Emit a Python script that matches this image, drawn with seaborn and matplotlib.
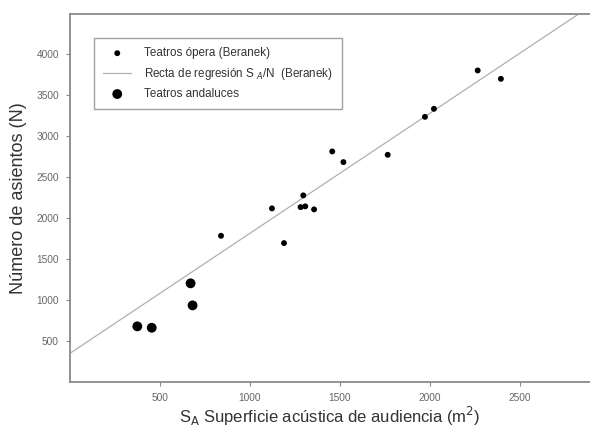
import numpy as np
import pandas as pd
import seaborn as sns
import matplotlib.pyplot as plt

# Teatros de ópera (Beranek): superficie acústica S_A (m2) y número de asientos N
beranek_sa = [839, 1122, 1189, 1281, 1296, 1307, 1356, 1457, 1519, 1765,
              1972, 2022, 2265, 2394]
beranek_n = [1784, 2118, 1695, 2134, 2277, 2143, 2106, 2813, 2683, 2772,
             3235, 3333, 3801, 3699]

# Teatros andaluces
andaluces_sa = [374, 454, 670, 681]
andaluces_n = [679, 662, 1204, 935]

# Recta de regresión S_A/N (Beranek)
reg_intercept = 350
reg_slope = 1.465

x_ticks = [500, 1000, 1500, 2000, 2500]
y_ticks = [500, 1000, 1500, 2000, 2500, 3000, 3500, 4000]

sns.set_style("white")
plt.rcParams['font.family'] = ['Liberation Sans', 'DejaVu Sans']

fig = plt.figure(figsize=(5.9, 4.28), dpi=100)
ax = fig.add_axes([70 / 590, 46 / 428, 520 / 590, 368 / 428])

beranek = pd.DataFrame({'sa': beranek_sa, 'n': beranek_n})
andaluces = pd.DataFrame({'sa': andaluces_sa, 'n': andaluces_n})

sns.scatterplot(data=beranek, x='sa', y='n', ax=ax, color='black', s=18,
                edgecolor='none', label='Teatros ópera (Beranek)', zorder=3)
ax.axline((0, reg_intercept), slope=reg_slope, color='#b0b0b0', lw=0.9,
          label=r'Recta de regresión S $_{A}$/N  (Beranek)', zorder=2)
sns.scatterplot(data=andaluces, x='sa', y='n', ax=ax, color='black', s=50,
                edgecolor='none', label='Teatros andaluces', zorder=3)

ax.set_xlim(0, 2889)
ax.set_ylim(0, 4490)
ax.set_xticks(x_ticks)
ax.set_yticks(y_ticks)
ax.tick_params(axis='both', labelsize=7.3, labelcolor='#666666', color='#888888',
               length=3, width=0.8, direction='out', left=True, bottom=True, pad=5)

for side in ['left', 'bottom', 'top']:
    ax.spines[side].set_color('#8a8a8a')
    ax.spines[side].set_linewidth(1.3)
ax.spines['right'].set_visible(False)

ax.set_xlabel(r'S$_{\mathrm{A}}$ Superficie acústica de audiencia (m$^{2}$)',
              fontsize=12, color='#333333', labelpad=1)
ax.set_ylabel('Número de asientos (N)', fontsize=13, color='#333333', labelpad=7)

leg = ax.legend(loc='upper left', bbox_to_anchor=(0.046, 0.935), fontsize=8.4,
                frameon=True, fancybox=False, edgecolor='#8a8a8a',
                borderpad=0.8, labelspacing=0.55, handlelength=2.4,
                handletextpad=1.1, borderaxespad=0)
leg.get_frame().set_linewidth(1.0)
for t in leg.get_texts():
    t.set_color('#333333')

fig.savefig('out.png', dpi=100)
